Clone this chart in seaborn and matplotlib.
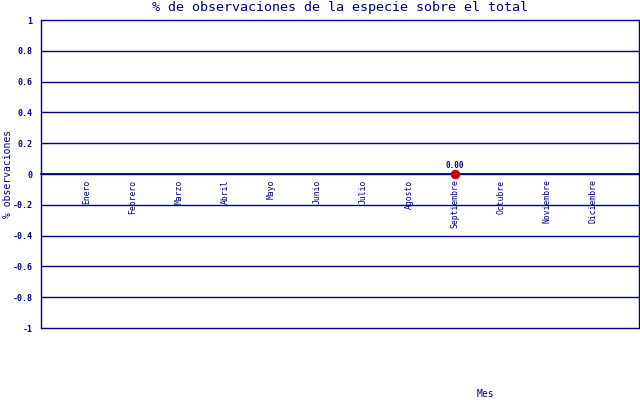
import matplotlib
matplotlib.use("Agg")
import matplotlib.pyplot as plt
import pandas as pd
import seaborn as sns

months = ["Enero", "Febrero", "Marzo", "Abril", "Mayo", "Junio", "Julio",
          "Agosto", "Septiembre", "Octubre", "Noviembre", "Diciembre"]
obs_months = ["Septiembre"]
obs_pct = [0.0]
y_ticks = [-1, -0.8, -0.6, -0.4, -0.2, 0, 0.2, 0.4, 0.6, 0.8, 1]
y_labels = ["-1", "-0.8", "-0.6", "-0.4", "-0.2", "0", "0.2", "0.4", "0.6", "0.8", "1"]

NAVY = "#000080"

sns.set_theme(style="white")
plt.rcParams["font.family"] = ["DejaVu Sans Mono", "DejaVu Sans"]

data = pd.DataFrame({"mes": obs_months, "pct": obs_pct})
pos = {m: i for i, m in enumerate(months)}
data["x"] = data["mes"].map(pos)

fig = plt.figure(figsize=(6.4, 4.0), dpi=100)
ax = fig.add_axes([41 / 640, 72 / 400, 598 / 640, 308 / 400])

sns.scatterplot(data=data, x="x", y="pct", ax=ax, color="#cc0000",
                s=40, edgecolor="#cc0000", zorder=5, legend=False)
for _, row in data.iterrows():
    ax.annotate(f"{row['pct']:.2f}", (row["x"], row["pct"]), xytext=(0, 3),
                textcoords="offset points", ha="center", va="bottom",
                fontsize=5.5, color=NAVY, fontweight="bold")

# spine position first: moving it resets the tick setup
ax.spines["bottom"].set_position(("data", 0))
ax.spines["bottom"].set_color(NAVY)
ax.spines["top"].set_visible(False)
for side in ["left", "right"]:
    ax.spines[side].set_color(NAVY)
    ax.spines[side].set_linewidth(1)

ax.set_xlim(-1, 12)
ax.set_ylim(-1, 1)
ax.set_yticks(y_ticks)
ax.set_yticklabels(y_labels, fontsize=6, color=NAVY, fontweight="bold")
ax.set_xticks(range(len(months)))
ax.set_xticklabels(months, rotation=90, fontsize=5.8, color=NAVY, va="top", ha="center")
ax.tick_params(axis="x", direction="in", length=2, width=1, color=NAVY, pad=4)
ax.tick_params(axis="y", length=0, pad=6)

for y in y_ticks:
    ax.axhline(y, color=NAVY, lw=1, zorder=1, clip_on=False)

ax.set_xlabel("")
ax.set_ylabel("")
fig.text(8 / 640, 0.565, "% observaciones", rotation=90, ha="center", va="center",
         fontsize=7, color=NAVY)
fig.text(485 / 640, 6 / 400, "Mes", ha="center", va="center", fontsize=7, color=NAVY)
fig.text(340 / 640, 392 / 400, "% de observaciones de la especie sobre el total",
         ha="center", va="center", fontsize=9.6, color=NAVY)

fig.savefig("out.png", dpi=100)
